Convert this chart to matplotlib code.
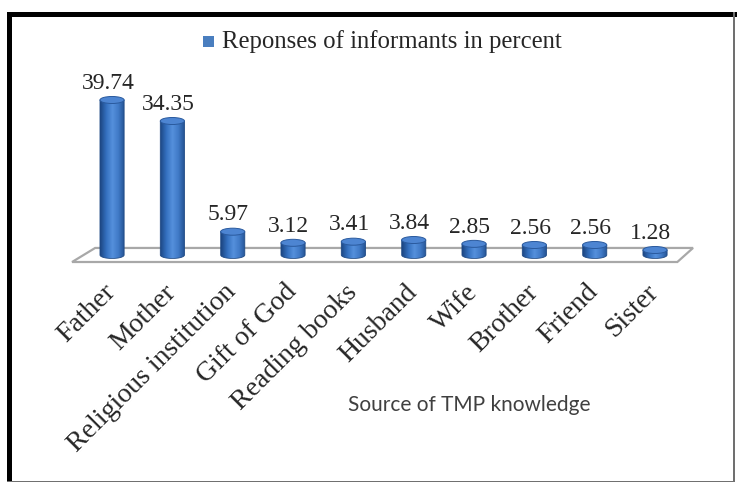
import numpy as np
import matplotlib.pyplot as plt
from matplotlib.patches import Ellipse, Polygon, Rectangle
from matplotlib.colors import LinearSegmentedColormap

categories = ["Father", "Mother", "Religious institution", "Gift of God",
              "Reading books", "Husband", "Wife", "Brother", "Friend", "Sister"]
values = [39.74, 34.35, 5.97, 3.12, 3.41, 3.84, 2.85, 2.56, 2.56, 1.28]
series_name = "Reponses of informants in percent"
axis_title = "Source of TMP knowledge"

W, H = 737, 484
fig = plt.figure(figsize=(W / 100, H / 100), dpi=100)

# axes placed so the bars sit on the floor plane
ax = fig.add_axes([0.1111, 0.3926, 0.8186, 0.4432])
ax.axis('off')

bw = 0.40   # cylinder width (category units)
eh = 1.8    # ellipse height (value units)
shade = LinearSegmentedColormap.from_list(
    'cyl', ['#1c4682', '#3470bf', '#5590dc', '#3f79c6', '#22508f'])
grad = np.linspace(0, 1, 64).reshape(1, -1)

# floor of the 3D chart
floor = Polygon([(-0.663, -1.8), (9.37, -1.8), (9.63, 1.8), (-0.28, 1.8)],
                closed=True, fc='white', ec='#a8a8a8', lw=1.6,
                clip_on=False, zorder=1)
ax.add_patch(floor)

t = np.linspace(np.pi, 2 * np.pi, 40)
for i, v in enumerate(values):
    x0, x1 = i - bw / 2, i + bw / 2
    arc = np.column_stack([i + bw / 2 * np.cos(t), eh / 2 * np.sin(t)])
    verts = [(x0, v)] + arc.tolist() + [(x1, v)]
    body = Polygon(verts, closed=True, transform=ax.transData)
    im = ax.imshow(grad, cmap=shade, extent=[x0, x1, -eh / 2, v],
                   aspect='auto', zorder=3, interpolation='bilinear')
    im.set_clip_path(body)
    ax.add_patch(Polygon(verts, closed=True, fill=False, ec='#1f4a85',
                         lw=0.6, zorder=3.5))
    ax.add_patch(Ellipse((i, v), bw, eh, fc='#4d85d2', ec='#2a5a9e',
                         lw=0.7, zorder=4))
    ax.text(i - 0.07, v + 2.9, f"{v:.2f}", ha='center', va='baseline',
            fontsize=17, family='Liberation Serif', color='#262626')
    ax.text(i - 0.15, -6.3, categories[i], rotation=45,
            rotation_mode='anchor', ha='right', va='top', fontsize=20,
            family='Liberation Serif', color='#262626')

ax.set_xlim(-0.5, 9.5)
ax.set_ylim(-10, 45)

# legend
fig.patches.append(Rectangle((203 / W, 1 - 47 / H), 11 / W, 11 / H,
                             transform=fig.transFigure, fc='#4a7ebf',
                             ec='none'))
fig.text(222 / W, 1 - 42 / H, series_name, ha='left', va='center',
         fontsize=17.8, family='Liberation Serif', color='#262626')

fig.text(469 / W, 1 - 405 / H, axis_title, ha='center', va='center',
         fontsize=15, family='Lato', color='#404040')

# outer frame
fig.patches.append(Rectangle((7 / W, 2 / H), 5 / W, 470 / H,
                             transform=fig.transFigure, fc='black', ec='none'))
fig.patches.append(Rectangle((7 / W, 1 - 17 / H), 730 / W, 5 / H,
                             transform=fig.transFigure, fc='black', ec='none'))
fig.patches.append(Rectangle((733 / W, 2 / H), 1.5 / W, 470 / H,
                             transform=fig.transFigure, fc='#707070', ec='none'))
fig.patches.append(Rectangle((7 / W, 2 / H), 728 / W, 1.5 / H,
                             transform=fig.transFigure, fc='#707070', ec='none'))

fig.savefig('out.png', dpi=100)
